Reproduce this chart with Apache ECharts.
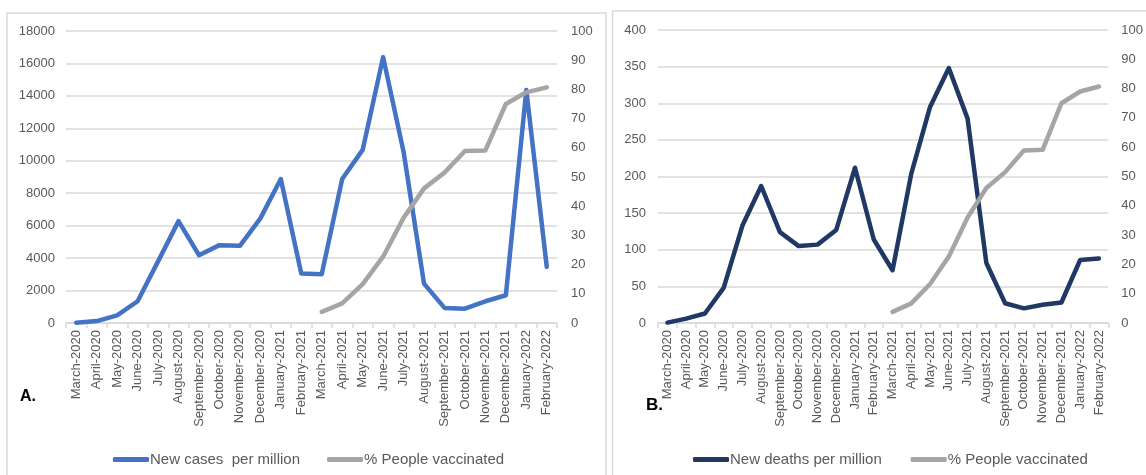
<!DOCTYPE html>
<html>
<head>
<meta charset="utf-8">
<script src="https://cdn.jsdelivr.net/npm/echarts@6/dist/echarts.min.js"></script>
<style>
html,body{margin:0;padding:0;background:#fff;}
#chart{width:1146px;height:475px;}
</style>
</head>
<body>
<div id="chart"></div>
<script>
var months = ['March-2020','April-2020','May-2020','June-2020','July-2020','August-2020','September-2020','October-2020','November-2020','December-2020','January-2021','February-2021','March-2021','April-2021','May-2021','June-2021','July-2021','August-2021','September-2021','October-2021','November-2021','December-2021','January-2022','February-2022'];
var newCasesPerMillion = [20,120,470,1340,3800,6280,4180,4800,4760,6450,8875,3050,3000,8875,10670,16390,10560,2430,930,885,1340,1710,14370,3460];
var newDeathsPerMillion = [0.5,6,13,48,133,187,124,105,107,127,212,114,72,204,295,348,279,82,27,20,25,28,86,88];
var peopleVaccinated = [null,null,null,null,null,null,null,null,null,null,null,null,3.8,6.7,13.3,22.7,36,46.1,51.5,58.9,59.1,75,79,80.7];

var nameCases = 'New cases  per million';
var nameDeaths = 'New deaths per million';
var nameVacc = '% People vaccinated';

var FONT = 'Liberation Sans, Arial, sans-serif';
var TXT = '#595959';
var GRIDC = '#d9d9d9';

function xAxis(gi){
  return {
    type:'category', gridIndex:gi, data:months, boundaryGap:true,
    axisLine:{show:true, lineStyle:{color:GRIDC, width:1.5}},
    axisTick:{show:true, length:5, lineStyle:{color:GRIDC, width:1.5}},
    axisLabel:{rotate:90, interval:0, fontSize:13, color:TXT, fontFamily:FONT, margin:7},
    splitLine:{show:false}
  };
}
function yAxis(gi, pos, max, interval, split, margin){
  return {
    type:'value', gridIndex:gi, position:pos, min:0, max:max, interval:interval,
    axisLine:{show:false}, axisTick:{show:false},
    axisLabel:{fontSize:13, color:TXT, fontFamily:FONT, margin:margin, formatter:function(v){return String(v);}},
    splitLine:{show:split, lineStyle:{color:GRIDC, width:1.5}}
  };
}
function line(name, x, y, data, color, z){
  return {
    name:name, type:'line', xAxisIndex:x, yAxisIndex:y, data:data,
    symbol:'none', showSymbol:false, connectNulls:false, z:z,
    lineStyle:{color:color, width:4.5, cap:'round', join:'round'},
    itemStyle:{color:color}
  };
}

var chart = echarts.init(document.getElementById('chart'), null, {renderer:'canvas'});
chart.setOption({
  backgroundColor:'#fff',
  animation:false,
  textStyle:{fontFamily:FONT},
  grid:[
    {left:66, right:1146-557, top:31, bottom:475-323},
    {left:658, right:1146-1115, top:30, bottom:475-323}
  ],
  xAxis:[xAxis(0), xAxis(1)],
  yAxis:[
    yAxis(0,'left',18000,2000,true,11),
    yAxis(0,'right',100,10,false,14),
    yAxis(1,'left',400,50,true,12),
    yAxis(1,'right',100,10,false,13)
  ],
  legend:[
    {left:108, top:447, itemWidth:36, itemHeight:5, itemGap:27, icon:'roundRect',
     data:[nameCases, nameVacc], textStyle:{fontSize:15, color:TXT, fontFamily:FONT, padding:[0,0,0,-4]}},
    {left:688, top:447, itemWidth:36, itemHeight:5, itemGap:29, icon:'roundRect',
     data:[nameDeaths, nameVacc], textStyle:{fontSize:15, color:TXT, fontFamily:FONT, padding:[0,0,0,-4]}}
  ],
  series:[
    line(nameCases,0,0,newCasesPerMillion,'#4472C4',2),
    line(nameVacc,0,1,peopleVaccinated,'#A5A5A5',3),
    line(nameDeaths,1,2,newDeathsPerMillion,'#203864',2),
    line(nameVacc,1,3,peopleVaccinated,'#A5A5A5',3)
  ],
  graphic:[
    {type:'rect', shape:{x:7, y:13, width:599, height:480}, style:{fill:'none', stroke:GRIDC, lineWidth:1.5}, silent:true, z:-1},
    {type:'rect', shape:{x:612.5, y:11, width:560, height:480}, style:{fill:'none', stroke:GRIDC, lineWidth:1.5}, silent:true, z:-1},
    {type:'text', left:20, top:389, style:{text:'A.', font:'bold 16px Liberation Sans, Arial, sans-serif', fill:'#000'}},
    {type:'text', left:646, top:397, style:{text:'B.', font:'bold 17px Liberation Sans, Arial, sans-serif', fill:'#000'}}
  ]
});
</script>
</body>
</html>
